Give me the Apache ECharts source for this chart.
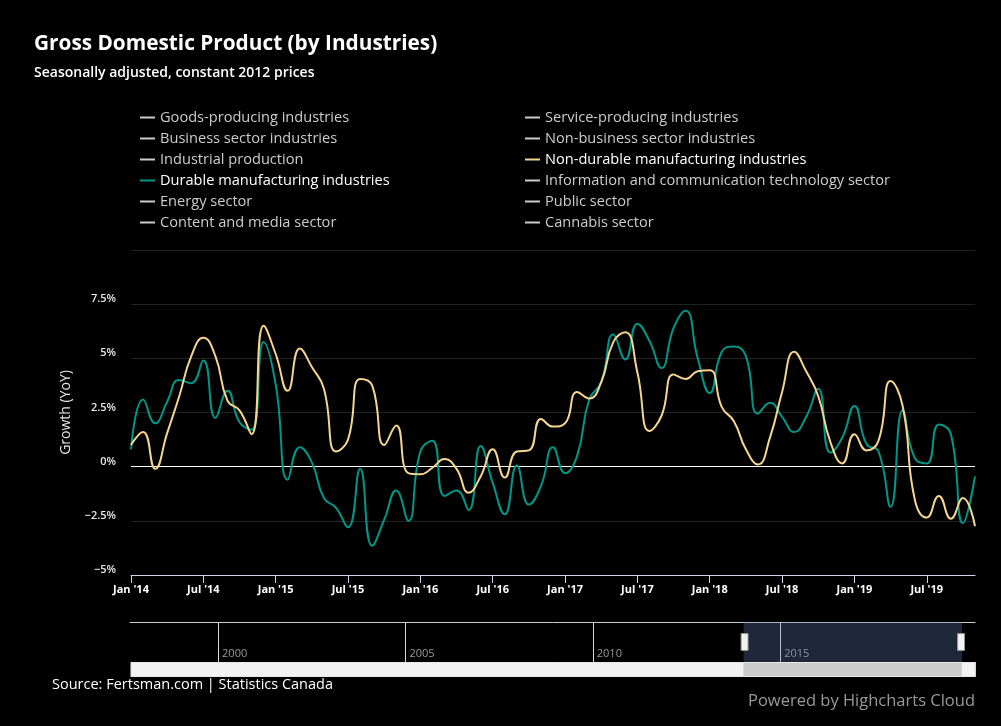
<!DOCTYPE html>
<html>
<head>
<meta charset="utf-8">
<script src="https://cdn.jsdelivr.net/npm/echarts@6/dist/echarts.min.js"></script>
<style>
html,body{margin:0;padding:0;background:#000;}
#chart{width:1001px;height:726px;}
</style>
</head>
<body>
<div id="chart"></div>
<script>
// ---- data ----
const monthNames = ['Jan','Feb','Mar','Apr','May','Jun','Jul','Aug','Sep','Oct','Nov','Dec'];
const yearLabels = ['14','15','16','17','18','19'];
const categories = [];
yearLabels.forEach(function (y) {
  monthNames.forEach(function (m) { categories.push(m + " '" + y); });
});
categories.length = 71; // Jan '14 .. Nov '19

const durable = [
  0.8, 3.1, 2.0, 3.0, 4.0, 3.85, 4.9, 2.25, 3.5, 2.05, 1.7, 5.75,
  3.8, -0.6, 0.9, 0.2, -1.45, -1.9, -2.8, -0.1, -3.65, -2.45, -1.1, -2.5,
  0.7, 1.2, -1.35, -1.1, -2.0, 0.95, -0.75, -2.2, 0.05, -1.75, -0.9, 0.9,
  -0.3, 0.5, 3.1, 3.9, 6.1, 4.95, 6.6, 5.8, 4.55, 6.4, 7.2, 5.0,
  3.4, 5.3, 5.55, 5.1, 2.45, 2.95, 2.3, 1.6, 2.3, 3.6, 0.65, 1.35,
  2.8, 1.05, 0.7, -1.85, 2.6, 0.4, 0.15, 1.95, 1.5, -2.6, -0.45
];
const nonDurable = [
  1.0, 1.6, -0.1, 1.55, 3.25, 5.1, 5.95, 5.1, 3.05, 2.6, 1.5, 6.5,
  5.2, 3.5, 5.45, 4.6, 3.6, 0.7, 1.25, 4.05, 3.75, 1.0, 1.9, -0.3,
  -0.35, -0.05, 0.35, -0.1, -1.2, -0.45, 0.8, -0.5, 0.7, 0.75, 2.2, 1.85,
  2.0, 3.45, 3.15, 3.9, 5.75, 6.2, 4.35, 1.65, 2.35, 4.25, 4.05, 4.4,
  4.45, 2.75, 2.1, 0.8, 0.1, 1.35, 3.45, 5.3, 4.4, 3.25, 1.15, 0.15,
  1.5, 0.75, 1.2, 3.95, 2.8, -1.5, -2.35, -1.35, -2.4, -1.45, -2.75
];

const legendLeft = [
  'Goods-producing industries', 'Business sector industries', 'Industrial production',
  'Durable manufacturing industries', 'Energy sector', 'Content and media sector'
];
const legendRight = [
  'Service-producing industries', 'Non-business sector industries', 'Non-durable manufacturing industries',
  'Information and communication technology sector', 'Public sector', 'Cannabis sector'
];
const visibleSeries = ['Durable manufacturing industries', 'Non-durable manufacturing industries'];

const yMin = -5, yMax = 10, yStep = 2.5;
const navigatorYears = [2000, 2005, 2010, 2015];
const navigatorExtent = [1997.65, 2020.2];
const navigatorSelection = [2014.0, 2019.83];

// ---- chart ----
const FONT = 'Open Sans';
const selected = {};
legendLeft.concat(legendRight).forEach(function (n) { selected[n] = visibleSeries.indexOf(n) >= 0; });

const colors = { 'Durable manufacturing industries': '#009688', 'Non-durable manufacturing industries': '#f6d58f' };

const series = [];
legendLeft.concat(legendRight).forEach(function (n) {
  const isDur = n === 'Durable manufacturing industries';
  const isNon = n === 'Non-durable manufacturing industries';
  series.push({
    name: n,
    type: 'line',
    xAxisIndex: 0, yAxisIndex: 0,
    data: isDur ? durable : (isNon ? nonDurable : []),
    smooth: 0.5,
    showSymbol: false,
    symbol: 'none',
    color: colors[n] || '#888',
    lineStyle: { width: 2 },
    z: 3
  });
});
series.push({
  name: '__nav',
  type: 'line',
  xAxisIndex: 2, yAxisIndex: 1,
  data: [[navigatorExtent[0], 0], [navigatorExtent[1], 0]],
  symbol: 'none',
  lineStyle: { opacity: 0 },
  silent: true
});

function legendCfg(left, data) {
  return {
    left: left, top: 110, orient: 'vertical',
    data: data, selected: selected,
    icon: 'rect', itemWidth: 15, itemHeight: 2, itemGap: 6,
    padding: 0,
    inactiveColor: '#cccccc', inactiveBorderColor: '#cccccc',
    textStyle: { color: '#ffffff', fontSize: 14.6, fontFamily: FONT, lineHeight: 15 }
  };
}

const gridColor = '#222222';
const splitColors = [];
for (let v = yMin; v <= yMax + 1e-9; v += yStep) splitColors.push(Math.abs(v) < 1e-9 ? '#ffffff' : gridColor);

const option = {
  backgroundColor: '#000000',
  animation: false,
  title: [
    {
      text: 'Gross Domestic Product (by Industries)',
      subtext: 'Seasonally adjusted, constant 2012 prices',
      left: 34, top: 30, padding: 0, itemGap: 6,
      textStyle: { color: '#ffffff', fontSize: 20.8, fontWeight: 'bold', fontFamily: FONT, lineHeight: 28 },
      subtextStyle: { color: '#ffffff', fontSize: 14, fontWeight: 600, fontFamily: FONT, lineHeight: 18 }
    },
    {
      text: 'Source: Fertsman.com | Statistics Canada',
      left: 52, top: 676, padding: 0,
      textStyle: { color: '#ffffff', fontSize: 14.5, fontWeight: 'normal', fontFamily: FONT, lineHeight: 18 }
    },
    {
      text: 'Powered by Highcharts Cloud',
      right: 26, top: 690, padding: 0,
      textStyle: { color: '#999999', fontSize: 16.5, fontWeight: 'normal', fontFamily: FONT, lineHeight: 22 }
    }
  ],
  legend: [legendCfg(140, legendLeft), legendCfg(525, legendRight)],
  grid: [
    { left: 131, right: 26, top: 250, bottom: 151, containLabel: false },
    { left: 130, right: 26, top: 622, height: 40, containLabel: false }
  ],
  xAxis: [
    {
      gridIndex: 0, type: 'category', data: categories, boundaryGap: false, position: 'bottom',
      axisLine: { show: true, onZero: false, lineStyle: { color: '#ccd6eb', width: 1 } },
      axisTick: { show: true, interval: 5, length: 8, lineStyle: { color: '#ccd6eb' } },
      axisLabel: { interval: 5, color: '#ffffff', fontSize: 11, fontWeight: 'bold', fontFamily: FONT, margin: 9 },
      splitLine: { show: false }
    },
    {
      gridIndex: 1, type: 'value', min: navigatorExtent[0], max: navigatorExtent[1], position: 'top',
      axisLine: { show: true, onZero: false, lineStyle: { color: '#cccccc', width: 1 } },
      axisTick: { show: false, customValues: navigatorYears },
      axisLabel: {
        show: true, inside: true, customValues: navigatorYears, margin: 26,
        align: 'left', padding: [0, 0, 0, 4], color: '#999999', fontSize: 11, fontFamily: FONT,
        formatter: function (v) { return String(Math.round(v)); }
      },
      splitLine: { show: true, lineStyle: { color: '#d8d8d8', width: 1 } }
    },
    {
      gridIndex: 1, type: 'value', min: navigatorExtent[0], max: navigatorExtent[1], show: false
    }
  ],
  yAxis: [
    {
      gridIndex: 0, type: 'value', min: yMin, max: yMax, interval: yStep,
      name: 'Growth (YoY)', nameLocation: 'middle', nameGap: 58, nameRotate: 90,
      nameTextStyle: { color: '#e6e6e6', fontSize: 14, fontFamily: FONT },
      axisLine: { show: false }, axisTick: { show: false },
      axisLabel: {
        color: '#e8e8e8', fontSize: 11, fontWeight: 600, fontFamily: FONT, margin: 15,
        verticalAlign: 'bottom', lineHeight: 10,
        formatter: function (v) {
          if (v >= yMax) return '';
          const s = (Math.abs(v) % 1 === 0 ? Math.abs(v).toFixed(0) : String(Math.abs(v))) + '%';
          return v < 0 ? '\u2212' + s : s;
        }
      },
      splitLine: { show: true, lineStyle: { color: splitColors, width: 1 } }
    },
    { gridIndex: 1, type: 'value', show: false, min: -1, max: 1 }
  ],
  dataZoom: [
    {
      type: 'slider', xAxisIndex: 2, filterMode: 'none',
      left: 130, right: 26, top: 622, height: 40,
      startValue: navigatorSelection[0], endValue: navigatorSelection[1],
      backgroundColor: 'rgba(0,0,0,0)', borderColor: 'rgba(0,0,0,0)', borderRadius: 0,
      fillerColor: 'rgba(102,133,194,0.3)',
      showDataShadow: false, showDetail: false, brushSelect: false, moveHandleSize: 0,
      handleIcon: 'path://M0,0H7V17H0Z',
      handleSize: '42%',
      handleStyle: { color: '#f2f2f2', borderColor: '#999999', borderWidth: 1 },
      emphasis: { handleStyle: { color: '#f2f2f2', borderColor: '#999999' } },
      z: 4
    },
    {
      type: 'slider', xAxisIndex: 2, filterMode: 'none',
      left: 130, right: 26, top: 662, height: 15,
      startValue: navigatorSelection[0], endValue: navigatorSelection[1],
      backgroundColor: '#f2f2f2', borderColor: '#e6e6e6', borderRadius: 0,
      fillerColor: '#cccccc',
      showDataShadow: false, showDetail: false, brushSelect: false, moveHandleSize: 0,
      handleSize: 0,
      handleStyle: { opacity: 0 },
      z: 4
    }
  ],
  series: series
};

const chart = echarts.init(document.getElementById('chart'), null, { renderer: 'canvas' });
chart.setOption(option);
</script>
</body>
</html>
